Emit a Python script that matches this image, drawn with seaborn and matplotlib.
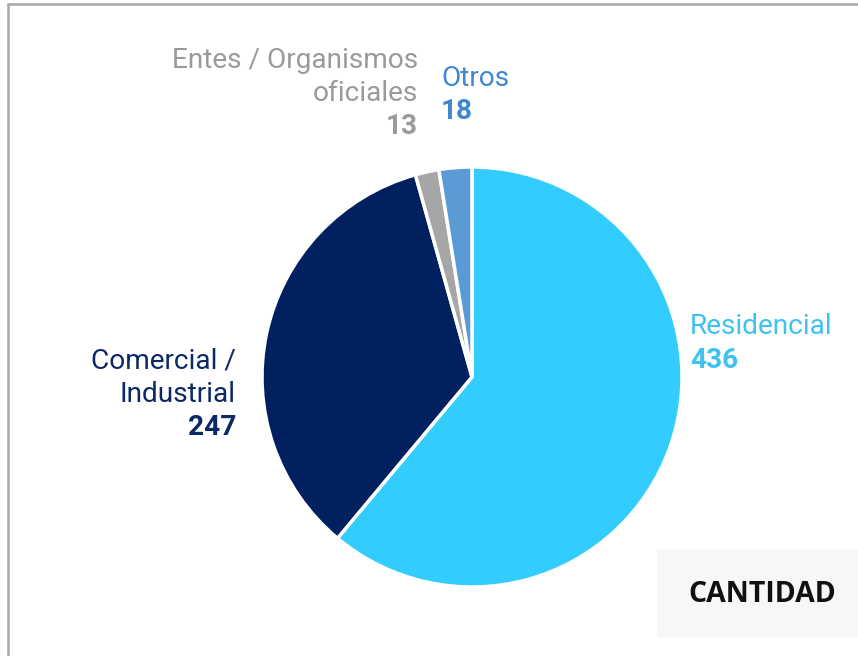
import matplotlib
matplotlib.use("Agg")
import matplotlib.pyplot as plt
import seaborn as sns
from matplotlib.patches import Rectangle
from matplotlib.lines import Line2D

sns.set_theme(style="white")
plt.rcParams['font.family'] = ['Roboto', 'DejaVu Sans']

categories = ["Residencial", "Comercial / Industrial", "Entes / Organismos oficiales", "Otros"]
values = [436, 247, 13, 18]
colors = ["#33ccff", "#002060", "#a6a6a6", "#5b9bd5"]
text_colors = ["#3ec3f0", "#0d2866", "#9a9a9a", "#3f87cf"]

W, H = 858, 656
fig = plt.figure(figsize=(W / 100, H / 100), dpi=100)
fig.patch.set_facecolor("white")

def fx(x):
    return x / W

def fy(y):
    return 1 - y / H

# pie axes: center (472,377), radius 210
ax = fig.add_axes([fx(262), fy(587), 420 / W, 420 / H])
ax.pie(values, colors=colors, startangle=90, counterclock=False, radius=1,
       wedgeprops=dict(edgecolor="white", linewidth=2.5))
ax.set_xlim(-1, 1)
ax.set_ylim(-1, 1)
ax.set_aspect("equal")
ax.axis("off")

fs = 20.2
# Labels
def label(x, ys, lines, ha, color):
    for (y, txt, bold) in zip(ys, lines, [False] * (len(lines) - 1) + [True]):
        fig.text(fx(x), fy(y), txt, ha=ha, va="baseline", fontsize=fs,
                 color=color, fontweight="bold" if bold else "normal")

label(690, [334, 368], ["Residencial", str(values[0])], "left", text_colors[0])
label(236, [369, 402, 435], ["Comercial /", "Industrial", str(values[1])], "right", text_colors[1])
label(418, [68, 101, 134], ["Entes / Organismos", "oficiales", str(values[2])], "right", text_colors[2])
label(441, [86, 119], ["Otros", str(values[3])], "left", text_colors[3])

# CANTIDAD box
fig.patches.append(Rectangle((fx(657), fy(637)), (W - 657) / W, (637 - 549) / H,
                             transform=fig.transFigure, facecolor="#f7f7f7",
                             edgecolor="none", zorder=0))
fig.text(fx(762.5), fy(594), "CANTIDAD", ha="center", va="center", fontsize=20.5,
         family=["Open Sans", "DejaVu Sans"], fontweight="bold", color="#111111")

# border lines (top and left)
fig.add_artist(Line2D([fx(8), 1], [fy(3.5), fy(3.5)], transform=fig.transFigure,
                      color="#a9a9a9", linewidth=1.8))
fig.add_artist(Line2D([fx(8), fx(8)], [fy(3.5), 0], transform=fig.transFigure,
                      color="#a9a9a9", linewidth=1.8))

fig.savefig("out.png", dpi=100, facecolor="white")
